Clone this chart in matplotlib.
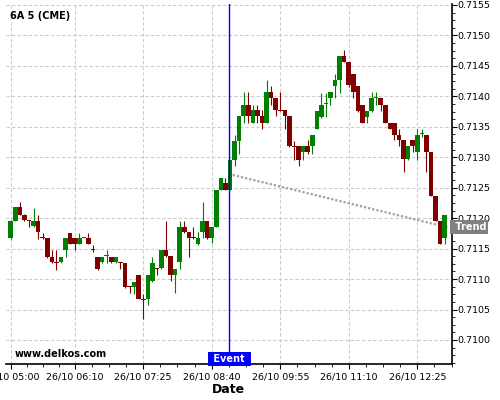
import numpy as np
import matplotlib
matplotlib.use('Agg')
import matplotlib.pyplot as plt
from matplotlib.ticker import FixedLocator, MultipleLocator, FormatStrFormatter
from matplotlib.transforms import blended_transform_factory

# 5-minute bars, 26/10 05:00 -> 12:55 (index = bar number)
opens = [0.71167, 0.71196, 0.71218, 0.71206, 0.71197, 0.71187, 0.71196, 0.71168,
         0.71167, 0.71137, 0.71128, 0.71128, 0.71147, 0.71176, 0.71167, 0.71157,
         0.71168, 0.71167, 0.71149, 0.71137, 0.71128, 0.71138, 0.71137, 0.71128,
         0.71128, 0.71127, 0.71088, 0.71087, 0.71106, 0.71067, 0.71067, 0.71097,
         0.71118, 0.71118, 0.71147, 0.71138, 0.71107, 0.71128, 0.71186, 0.71177,
         0.71168, 0.71158, 0.71177, 0.71196, 0.71168, 0.71186, 0.71247, 0.71257,
         0.71247, 0.71296, 0.71327, 0.71367, 0.71386, 0.71357, 0.71377, 0.71367,
         0.71357, 0.71407, 0.71397, 0.71377, 0.71377, 0.71367, 0.71318, 0.71318,
         0.71308, 0.71318, 0.71318, 0.71347, 0.71366, 0.71387, 0.71397, 0.71417,
         0.71427, 0.71467, 0.71457, 0.71437, 0.71417, 0.71386, 0.71366, 0.71376,
         0.71398, 0.71397, 0.71386, 0.71357, 0.71357, 0.71337, 0.71328, 0.71297,
         0.71328, 0.71308, 0.71338, 0.71337, 0.71308, 0.71237, 0.71196, 0.71167]
highs = [0.71197, 0.71218, 0.71227, 0.71207, 0.71197, 0.71217, 0.71206, 0.71176,
         0.71167, 0.71147, 0.71147, 0.71137, 0.71167, 0.71176, 0.71167, 0.71176,
         0.71169, 0.71176, 0.71156, 0.71137, 0.71137, 0.71147, 0.71137, 0.71137,
         0.71128, 0.71127, 0.71088, 0.71096, 0.71106, 0.71075, 0.71106, 0.71137,
         0.71118, 0.71147, 0.71195, 0.71138, 0.71116, 0.71195, 0.71195, 0.71177,
         0.71186, 0.71177, 0.71226, 0.71196, 0.71186, 0.71247, 0.71266, 0.71266,
         0.71296, 0.71336, 0.71367, 0.71407, 0.71407, 0.71386, 0.71386, 0.71377,
         0.71427, 0.71417, 0.71397, 0.71407, 0.71377, 0.71367, 0.71327, 0.71318,
         0.71318, 0.71328, 0.71337, 0.71376, 0.71406, 0.71406, 0.71407, 0.71437,
         0.71467, 0.71476, 0.71457, 0.71437, 0.71417, 0.71386, 0.71376, 0.71407,
         0.71407, 0.71397, 0.71386, 0.71357, 0.71357, 0.71347, 0.71328, 0.71318,
         0.71328, 0.71347, 0.71347, 0.71337, 0.71308, 0.71237, 0.71196, 0.71206]
lows = [0.71165, 0.71195, 0.71205, 0.71196, 0.71186, 0.71186, 0.71166, 0.71165,
        0.71135, 0.71126, 0.71115, 0.71126, 0.71137, 0.71157, 0.71147, 0.71157,
        0.71168, 0.71157, 0.71145, 0.71115, 0.71126, 0.71126, 0.71127, 0.71127,
        0.71116, 0.71086, 0.71077, 0.71076, 0.71067, 0.71034, 0.71057, 0.71096,
        0.71107, 0.71117, 0.71137, 0.71097, 0.71077, 0.71116, 0.71176, 0.71137,
        0.71166, 0.71156, 0.71167, 0.71166, 0.71159, 0.71185, 0.71246, 0.71246,
        0.71246, 0.71286, 0.71305, 0.71357, 0.71357, 0.71356, 0.71357, 0.71347,
        0.71356, 0.71386, 0.71367, 0.71376, 0.71347, 0.71317, 0.71296, 0.71286,
        0.71296, 0.71306, 0.71306, 0.71346, 0.71365, 0.71366, 0.71386, 0.71397,
        0.71406, 0.71456, 0.71416, 0.71397, 0.71375, 0.71356, 0.71357, 0.71375,
        0.71386, 0.71376, 0.71356, 0.71346, 0.71328, 0.71318, 0.71276, 0.71296,
        0.71308, 0.71296, 0.71333, 0.71276, 0.71236, 0.71195, 0.71157, 0.71157]
closes = [0.71196, 0.71218, 0.71206, 0.71197, 0.71196, 0.71196, 0.71177, 0.71167,
          0.71137, 0.71128, 0.71127, 0.71137, 0.71167, 0.71157, 0.71157, 0.71167,
          0.71169, 0.71157, 0.71148, 0.71116, 0.71137, 0.71139, 0.71128, 0.71137,
          0.71127, 0.71087, 0.71087, 0.71096, 0.71067, 0.71066, 0.71106, 0.71127,
          0.71117, 0.71147, 0.71138, 0.71107, 0.71116, 0.71186, 0.71177, 0.71168,
          0.71167, 0.71168, 0.71196, 0.71168, 0.71186, 0.71247, 0.71266, 0.71247,
          0.71296, 0.71327, 0.71367, 0.71386, 0.71367, 0.71377, 0.71367, 0.71357,
          0.71407, 0.71397, 0.71377, 0.71376, 0.71367, 0.71318, 0.71317, 0.71296,
          0.71318, 0.71308, 0.71337, 0.71376, 0.71386, 0.71388, 0.71407, 0.71427,
          0.71467, 0.71457, 0.71418, 0.71407, 0.71376, 0.71357, 0.71376, 0.71397,
          0.71399, 0.71386, 0.71357, 0.71347, 0.71337, 0.71328, 0.71297, 0.71318,
          0.71318, 0.71337, 0.71339, 0.71308, 0.71237, 0.71196, 0.71158, 0.71206]

tick_bars = [0, 14, 29, 44, 59, 74, 89]
tick_labels = ['26/10 05:00', '26/10 06:10', '26/10 07:25', '26/10 08:40',
               '26/10 09:55', '26/10 11:10', '26/10 12:25']

event_bar = 47.8          # ~08:59
trend_bars = [48.6, 95.6]
trend_values = [0.71271, 0.71185]

UP = '#008000'
DOWN = '#800000'

o = np.array(opens)
c = np.array(closes)
h = np.array(highs)
l = np.array(lows)
x = np.arange(len(o))
colors = [UP if cc >= oo else DOWN for oo, cc in zip(o, c)]

fig = plt.figure(figsize=(5, 4), dpi=100)
ax = fig.add_axes([0.011, 0.09, 0.893, 0.90])

# trend line behind the candles
ax.plot(trend_bars, trend_values, color='#a0a0a0', lw=1.6,
        linestyle=(0, (1, 0.9)), zorder=2)

ax.vlines(x, l, h, colors=colors, lw=0.8, zorder=3)
body_h = np.maximum(np.abs(c - o), 0.000016)
ax.bar(x, body_h, bottom=np.minimum(o, c), width=1.0, color=colors,
       linewidth=0, zorder=3.1)

# event marker
ax.axvline(event_bar, color='#0000ff', lw=1.0, zorder=4)
tr = blended_transform_factory(ax.transData, ax.transAxes)
ax.text(event_bar, 0.0, ' Event ', transform=tr, ha='center', va='bottom',
        color='white', fontsize=7, fontweight='bold', zorder=5,
        bbox=dict(boxstyle='square,pad=0.25', fc='#0000ff', ec='none'))

# trend label on the price axis
tr2 = blended_transform_factory(ax.transAxes, ax.transData)
ax.text(1.0, trend_values[-1], ' Trend', transform=tr2, ha='left', va='center',
        color='white', fontsize=7, fontweight='bold', zorder=6, clip_on=False,
        bbox=dict(boxstyle='square,pad=0.2', fc='#808080', ec='none'))

ax.set_xlim(-1.15, 96.6)
ax.set_ylim(0.709606, 0.715516)

# x ticks
ax.xaxis.set_major_locator(FixedLocator(tick_bars))
ax.set_xticklabels(tick_labels)
minor = []
for a, b in zip(tick_bars[:-1], tick_bars[1:]):
    minor += list(np.linspace(a, b, 5)[1:-1])
step = (tick_bars[-1] - tick_bars[-2]) / 4
minor += [tick_bars[-1] + step * k for k in (1, 2)]
ax.xaxis.set_minor_locator(FixedLocator(minor))

# y ticks on the right
ax.yaxis.tick_right()
ax.yaxis.set_major_locator(MultipleLocator(0.0005))
ax.yaxis.set_minor_locator(MultipleLocator(0.000125))
ax.yaxis.set_major_formatter(FormatStrFormatter('%.4f'))

ax.tick_params(axis='both', which='major', labelsize=6.8, length=3.6, width=0.8, colors='black')
ax.tick_params(axis='both', which='minor', length=2, width=0.6)
ax.tick_params(axis='y', which='major', pad=0.5)
ax.tick_params(axis='x', which='major', pad=2.5)

ax.grid(True, which='major', color='#cccccc', linestyle=(0, (3, 2)), lw=0.8)
ax.set_axisbelow(True)

for s in ('top', 'left'):
    ax.spines[s].set_visible(False)
for s in ('right', 'bottom'):
    ax.spines[s].set_linewidth(1.2)
    ax.spines[s].set_color('black')

ax.set_xlabel('Date', fontsize=9, fontweight='bold', labelpad=1)

fig.text(10.5 / 500, 1 - 16 / 400, '6A 5 (CME)', fontsize=7, fontweight='bold', va='center')
fig.text(15 / 500, 1 - 354 / 400, 'www.delkos.com', fontsize=7, fontweight='bold', va='center')

fig.savefig('out.png', dpi=100)
